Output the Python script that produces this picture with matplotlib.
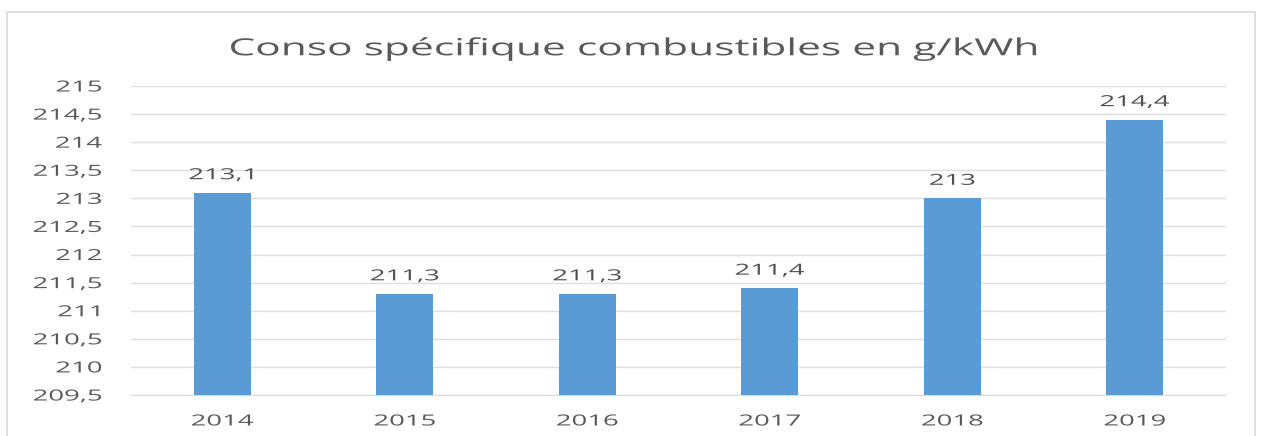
import matplotlib.pyplot as plt
import matplotlib.ticker as ticker
from matplotlib.patches import Rectangle
from matplotlib.patheffects import AbstractPathEffect
from matplotlib.transforms import Affine2D

plt.rcParams["font.family"] = ["Open Sans", "DejaVu Sans"]

annees = ["2014", "2015", "2016", "2017", "2018", "2019"]
conso = [213.1, 211.3, 211.3, 211.4, 213.0, 214.4]
etiquettes = ["213,1", "211,3", "211,3", "211,4", "213", "214,4"]

gris_texte = "#595959"
bleu = "#5B9BD5"
ETIRE = 1.8


class Etirement(AbstractPathEffect):
    """Élargit le texte horizontalement autour d'un point d'ancrage."""

    def __init__(self, sx, ancrage="center"):
        super().__init__()
        self.sx = sx
        self.ancrage = ancrage

    def draw_path(self, renderer, gc, tpath, affine, rgbFace=None):
        ext = tpath.get_extents(affine)
        if self.ancrage == "right":
            px = ext.x1
        elif self.ancrage == "left":
            px = ext.x0
        else:
            px = (ext.x0 + ext.x1) / 2
        t = affine + Affine2D().translate(-px, 0).scale(self.sx, 1).translate(px, 0)
        renderer.draw_path(gc, tpath, t, rgbFace)


fig = plt.figure(figsize=(12.63, 4.36), dpi=100)
ax = fig.add_axes([0.1037, 0.094, 0.867, 0.7088])

# cadre autour du graphique
fig.patches.append(Rectangle((7 / 1263, -0.05), 1248 / 1263, 1 - 12 / 436 + 0.05,
                             transform=fig.transFigure, fill=False,
                             edgecolor="#D9D9D9", linewidth=1.2))

x = range(len(annees))
ax.bar(x, [v - 209.5 for v in conso], bottom=209.5, width=0.31, color=bleu, zorder=3)

for i, v in enumerate(conso):
    ax.text(i, v + 0.17, etiquettes[i], ha="center", va="bottom",
            fontsize=11, color="#505050",
            path_effects=[Etirement(ETIRE)])

ax.set_xlim(-0.5, len(annees) - 0.5)
ax.set_ylim(209.5, 215)
ax.yaxis.set_major_locator(ticker.FixedLocator([209.5 + 0.5 * k for k in range(12)]))
ax.yaxis.set_major_formatter(ticker.FuncFormatter(
    lambda v, p: ("%g" % v).replace(".", ",")))
ax.set_xticks(list(x))
ax.set_xticklabels(annees)

ax.grid(axis="y", color="#DEDEDE", linewidth=1, zorder=0)
for s in ["top", "right", "left"]:
    ax.spines[s].set_visible(False)
ax.spines["bottom"].set_color("#D9D9D9")
ax.tick_params(axis="both", length=0, labelsize=11, colors=gris_texte)
ax.tick_params(axis="y", pad=21)
ax.tick_params(axis="x", pad=14)

for lbl in ax.get_yticklabels():
    lbl.set_path_effects([Etirement(ETIRE, "right")])
for lbl in ax.get_xticklabels():
    lbl.set_path_effects([Etirement(ETIRE)])

fig.text(0.502, 0.887, "Conso spécifique combustibles en g/kWh", ha="center",
         va="center", fontsize=17, color=gris_texte,
         path_effects=[Etirement(ETIRE)])

plt.savefig("out.png")
